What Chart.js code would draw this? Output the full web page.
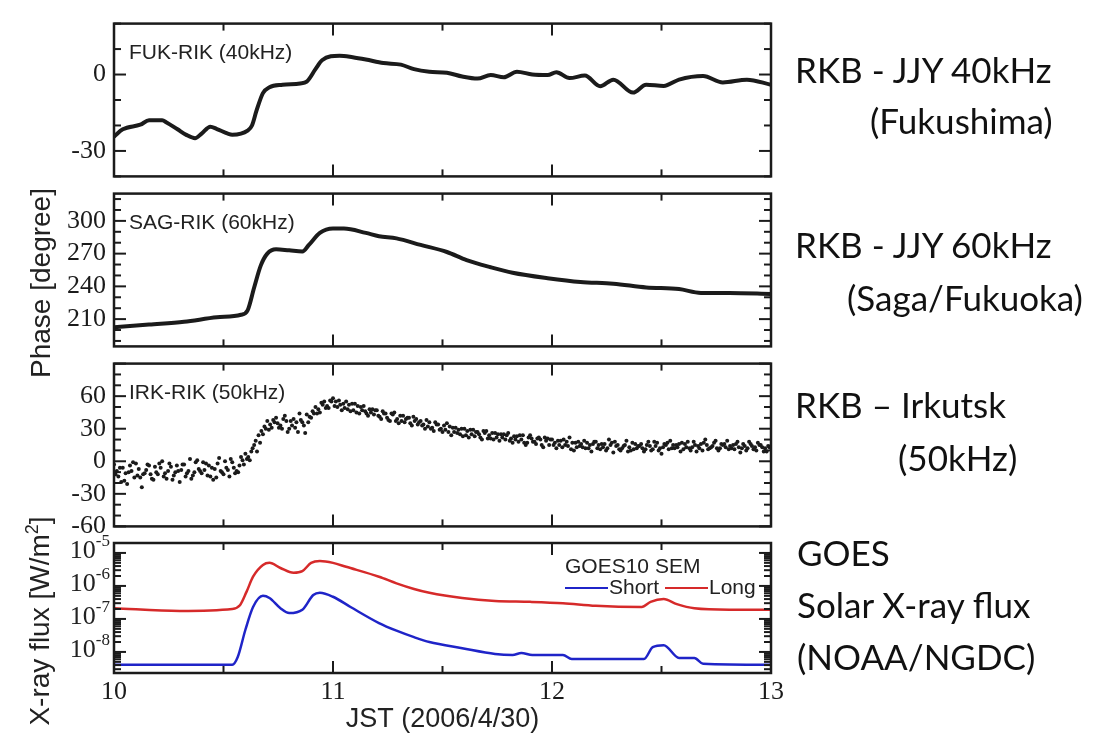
<!DOCTYPE html>
<html>
<head>
<meta charset="utf-8">
<script src="https://cdn.jsdelivr.net/npm/chart.js@4.4.0/dist/chart.umd.min.js"></script>
<style>
body { margin: 0; background: #fff; width: 1110px; height: 741px; position: relative; overflow: hidden; }
canvas { position: absolute; left: 0; }
.note { position: absolute; font-family: Lato, sans-serif; font-size: 35px; color: #111; white-space: nowrap; line-height: 40px; }
.ytitle { position: absolute; font-family: "Liberation Sans", Arial, sans-serif; font-size: 28px; color: #222; white-space: nowrap; line-height: 32px; transform: translate(-50%, -50%) rotate(-90deg); }
</style>
</head>
<body>
<canvas id="p1" width="1110" height="200" style="top:0"></canvas>
<canvas id="p2" width="1110" height="200" style="top:170px"></canvas>
<canvas id="p3" width="1110" height="210" style="top:340px"></canvas>
<canvas id="p4" width="1110" height="221" style="top:520px"></canvas>

<div class="ytitle" style="left:41px;top:283px">Phase [degree]</div>
<div class="ytitle" style="left:36px;top:621px">X-ray flux [W/m<sup style="font-size:18px">2</sup>]</div>

<div class="note" style="left:795px;top:49px">RKB - JJY 40kHz</div>
<div class="note" style="left:870px;top:100px">(Fukushima)</div>
<div class="note" style="left:795px;top:224px">RKB - JJY 60kHz</div>
<div class="note" style="left:847px;top:277px">(Saga/Fukuoka)</div>
<div class="note" style="left:795px;top:384px">RKB – Irkutsk</div>
<div class="note" style="left:898px;top:437px">(50kHz)</div>
<div class="note" style="left:797px;top:532px">GOES</div>
<div class="note" style="left:797px;top:584px">Solar X-ray flux</div>
<div class="note" style="left:797px;top:636px">(NOAA/NGDC)</div>

<script>
// JST hours
const xTicks = [10, 11, 12, 13];
const xMinor = [10.5, 11.5, 12.5];

// FUK-RIK 40kHz phase
const fukTime = [10.00,10.04,10.12,10.16,10.22,10.24,10.29,10.33,10.37,10.40,10.44,10.47,10.52,10.54,10.61,10.63,10.65,10.68,10.71,10.77,
  10.85,10.88,10.92,10.95,11.03,11.09,11.15,11.23,11.31,11.37,11.44,11.52,11.59,11.66,11.72,11.78,11.84,11.91,11.98,12.02,
  12.08,12.15,12.22,12.28,12.37,12.43,12.51,12.58,12.69,12.78,12.89,13.00];
const fukPhase = [-24.4,-21.5,-19.7,-18,-18,-18.8,-21.5,-23.7,-25,-23.2,-20.5,-21.4,-23.2,-23.6,-22,-20,-14.4,-7.3,-5,-4,
  -3.5,-2.8,2.1,5.6,7.4,6.8,5.9,4.5,3.9,2.1,1.1,0.7,-0.8,-1.6,-0.2,-1.1,1.1,0,-0.2,0.9,
  -1.4,-0.4,-4.6,-2,-7.1,-4,-4.5,-2,-0.6,-3.1,-2,-4];
const fukTicks = [-30, 0];

// SAG-RIK 60kHz phase
const sagTime = [10.00,10.16,10.32,10.47,10.58,10.61,10.64,10.67,10.70,10.74,10.80,10.86,10.89,10.94,11.00,11.05,
  11.15,11.21,11.29,11.40,11.52,11.61,11.72,11.82,11.98,12.13,12.28,12.43,12.58,12.68,12.81,13.00];
const sagPhase = [202.5,205,207.5,211.7,214,218,239,259,270,274,273,272,278,289,293,293,
  289,286,284,278,271.5,264,257.5,252.5,247.5,244,242.5,239,237.5,234,234,233];
const sagTicks = [210, 240, 270, 300];

// IRK-RIK 50kHz phase, three interleaved sample rows, each every 0.02 h
const irkStep = 0.02;
const irkStartA = 10.000, irkStartB = 10.007, irkStartC = 10.013;
const irkA = [
  -3,-14,-6,-21,-9,-2,-15,-11,-4,-17,
  -12,0,-16,-5,-10,-19,-3,-9,-13,1,
  -11,-2,-14,-7,3,-12,-8,-1,-9,4,
  7,1,15,24,25,37,31,40,33,42,
  30,39,27,36,43,40,50,45,55,49,
  58,50,47,55,46,53,44,51,42,48,
  47,39,44,37,45,35,42,40,33,39,
  37,30,36,28,34,27,35,24,31,25,
  30,22,29,27,20,28,21,26,19,25,
  26,17,23,20,15,24,18,22,13,21,
  20,12,19,15,22,10,18,13,17,9,
  18,11,16,20,8,15,12,19,10,16,
  14,9,18,11,17,7,15,19,12,16,
  11,18,13,9,16,20,12,17,10,15,
  19,12,16,8,14,18,11,17,13,9,
  14];
const irkB = [
  -12,-6,-18,-10,-1,-13,-24,-8,-12,-5,
  -2,-14,-9,-17,-4,-8,-14,2,-10,-7,
  -1,-13,-6,-15,-9,0,-14,-6,-10,1,
  2,9,19,17,32,29,38,35,30,37,
  37,31,44,33,36,46,44,54,49,56,
  51,56,53,48,53,45,50,46,48,43,
  42,46,40,44,37,42,36,40,41,34,
  33,38,30,36,29,33,27,31,26,30,
  24,29,23,25,28,21,26,22,25,20,
  19,23,18,24,17,21,16,20,22,15,
  15,19,13,18,11,17,14,19,12,16,
  12,16,10,15,18,11,14,9,17,12,
  16,11,14,18,10,13,17,12,15,9,
  16,12,18,14,10,15,13,19,12,16,
  11,15,18,12,10,16,13,15,9,14];
const irkC = [
  -9,-19,-11,-4,-15,-7,-12,-3,-16,-10,
  -6,-11,-2,-13,-9,-3,-11,-16,-1,-9,
  -8,-4,-17,-2,-10,-6,2,-11,-4,-3,
  4,12,9,28,30,34,36,31,39,27,
  33,36,38,26,41,44,48,52,51,55,
  55,52,49,52,47,51,47,44,45,47,
  41,44,38,43,39,37,39,35,37,36,
  34,32,31,34,30,29,32,27,29,23,
  28,25,27,22,26,24,20,25,22,24,
  21,20,24,17,22,18,21,15,19,20,
  17,15,20,14,17,13,16,12,15,18,
  15,13,12,17,14,10,15,13,11,14,
  12,15,10,14,12,16,11,15,13,17,
  13,10,15,12,17,11,14,12,16,13,
  14,11,13,16,12,14,10,15,12,13];
const irkTicks = [-60, -30, 0, 30, 60];

// GOES10 SEM X-ray flux [W/m2]
const longTime = [10.00,10.30,10.54,10.575,10.605,10.635,10.68,10.71,10.76,10.82,10.86,10.90,10.94,11.00,11.06,
  11.21,11.29,11.37,11.44,11.59,11.74,11.90,12.05,12.20,12.41,12.45,12.51,12.57,12.65,12.81,13.00];
const longFlux = [2.1e-7,1.75e-7,2.0e-7,2.6e-7,6.6e-7,1.9e-6,4.3e-6,5.0e-6,3.5e-6,2.5e-6,2.8e-6,5.0e-6,5.7e-6,5.0e-6,3.8e-6,
  1.9e-6,1.2e-6,8.1e-7,6.2e-7,4.3e-7,3.5e-7,3.3e-7,3.0e-7,2.5e-7,2.3e-7,3.3e-7,4.0e-7,2.8e-7,2.1e-7,1.9e-7,1.9e-7];
const shortTime = [10.00,10.54,10.565,10.60,10.635,10.68,10.71,10.76,10.80,10.86,10.91,10.94,11.00,11.08,11.21,11.29,
  11.37,11.44,11.59,11.74,11.82,11.86,11.91,12.05,12.09,12.42,12.46,12.51,12.58,12.65,12.69,13.00];
const shortFlux = [4.1e-9,4.1e-9,7e-9,4.7e-8,2.3e-7,5.0e-7,4.3e-7,2.1e-7,1.5e-7,1.9e-7,5.3e-7,6.2e-7,4.7e-7,2.3e-7,7.5e-8,4.4e-8,
  2.8e-8,2.0e-8,1.3e-8,8.7e-9,8.1e-9,9.3e-9,8.1e-9,8.1e-9,6.1e-9,6.1e-9,1.4e-8,1.6e-8,6.6e-9,6.6e-9,4.4e-9,4.1e-9];
const fluxTicks = [1e-8, 1e-7, 1e-6, 1e-5];

const pairs = (xs, ys) => ys.map((v, i) => ({ x: xs[i], y: v }));
const grid = (start, ys) => ys.map((v, i) => ({ x: start + i * irkStep, y: v }));

const ink = '#1b1b1b';
const serif = { family: '"Liberation Serif", "Times New Roman", serif', size: 26 };

// box, inward ticks on all four sides, panel label and legend
const frame = {
  id: 'frame',
  afterDatasetsDraw(chart, args, o) {
    const { ctx, chartArea: a } = chart;
    const x = chart.scales.x, y = chart.scales.y;
    ctx.save();
    ctx.strokeStyle = ink;
    ctx.lineWidth = 2;
    const seg = (x1, y1, x2, y2) => { ctx.beginPath(); ctx.moveTo(x1, y1); ctx.lineTo(x2, y2); ctx.stroke(); };
    xTicks.forEach(v => { const p = x.getPixelForValue(v); seg(p, a.top, p, a.top + 12); seg(p, a.bottom, p, a.bottom - 12); });
    xMinor.forEach(v => { const p = x.getPixelForValue(v); seg(p, a.top, p, a.top + 7); seg(p, a.bottom, p, a.bottom - 7); });
    const yt = [];
    if (o.log) {
      for (let e = -9; e <= -5; e++) for (let k = 1; k <= 9; k++) yt.push([k * Math.pow(10, e), k === 1]);
    } else {
      for (let v = Math.ceil(y.min / o.minor) * o.minor; v <= y.max; v += o.minor) yt.push([v, v % o.major === 0]);
    }
    yt.forEach(([v, big]) => {
      if (v < y.min || v > y.max) return;
      const p = y.getPixelForValue(v), len = big ? 12 : 7;
      seg(a.left, p, a.left + len, p);
      seg(a.right, p, a.right - len, p);
    });
    ctx.lineWidth = 2.5;
    ctx.strokeRect(a.left, a.top, a.width, a.height);

    ctx.fillStyle = '#222';
    ctx.textBaseline = 'middle';
    if (o.label) {
      ctx.font = '21px "Liberation Sans", Arial, sans-serif';
      ctx.fillText(o.label, a.left + 15, a.top + 30);
    }
    if (o.log) {
      // 10^n labels with raised exponent
      fluxTicks.forEach(v => {
        const p = y.getPixelForValue(v);
        const ex = String(Math.round(Math.log10(v)));
        ctx.textAlign = 'right';
        ctx.font = '17px "Liberation Serif", serif';
        const w = ctx.measureText(ex).width;
        ctx.fillText(ex, 110, p - 11);
        ctx.font = '26px "Liberation Serif", serif';
        ctx.fillText('10', 110 - w, p - 2);
      });
      // legend
      ctx.textAlign = 'left';
      ctx.font = '21px "Liberation Sans", Arial, sans-serif';
      const lx = a.right - 206;
      ctx.fillText(o.legendTitle, lx, a.top + 24);
      let cx = lx;
      chart.data.datasets.slice().reverse().forEach(ds => {
        ctx.strokeStyle = ds.borderColor;
        ctx.lineWidth = 2;
        seg(cx, a.top + 45, cx + 43, a.top + 45);
        ctx.fillStyle = '#222';
        ctx.fillText(ds.label, cx + 44, a.top + 45);
        cx += 100;
      });
    }
    ctx.restore();
  }
};

function panel(id, datasets, yScale, pad, frameOpts, showX) {
  const xScale = {
    type: 'linear', min: 10, max: 13, display: showX,
    afterBuildTicks: s => { s.ticks = xTicks.map(v => ({ value: v })); },
    grid: { display: false, drawTicks: false },
    border: { display: false },
    ticks: { font: serif, color: ink, padding: 4, maxRotation: 0 }
  };
  if (showX) {
    xScale.afterFit = s => { s.height = 68; };
    xScale.title = { display: true, text: 'JST (2006/4/30)', color: '#222',
      font: { family: '"Liberation Sans", Arial, sans-serif', size: 27 }, padding: { top: 0, bottom: 5 } };
  }
  return new Chart(document.getElementById(id), {
    type: 'scatter',
    data: { datasets },
    options: {
      responsive: false,
      animation: false,
      layout: { padding: { top: pad[0], bottom: pad[1], left: 0, right: 339 } },
      plugins: { legend: { display: false }, tooltip: { enabled: false }, frame: frameOpts },
      scales: {
        x: xScale,
        y: Object.assign({
          afterFit: s => { s.width = 114; },
          grid: { display: false, drawTicks: false },
          border: { display: false },
          ticks: { font: serif, color: ink, padding: 8 }
        }, yScale)
      }
    },
    plugins: [frame]
  });
}

const lineSet = (label, data, color, width) => ({
  label, data, showLine: true, borderColor: color, borderWidth: width,
  pointRadius: 0, cubicInterpolationMode: 'monotone'
});
const dotSet = (data) => ({ label: 'IRK-RIK', data, pointRadius: 2, pointBackgroundColor: ink, pointBorderWidth: 0 });

panel('p1', [lineSet('FUK-RIK', pairs(fukTime, fukPhase), ink, 4)],
  { min: -40, max: 20, afterBuildTicks: s => { s.ticks = fukTicks.map(v => ({ value: v })); } },
  [10, 20], { label: 'FUK-RIK (40kHz)', major: 30, minor: 10 }, false);

panel('p2', [lineSet('SAG-RIK', pairs(sagTime, sagPhase), ink, 4)],
  { min: 185, max: 325, afterBuildTicks: s => { s.ticks = sagTicks.map(v => ({ value: v })); } },
  [14, 15], { label: 'SAG-RIK (60kHz)', major: 30, minor: 10 }, false);

panel('p3', [dotSet(grid(irkStartA, irkA)), dotSet(grid(irkStartB, irkB)), dotSet(grid(irkStartC, irkC))],
  { min: -60, max: 90, afterBuildTicks: s => { s.ticks = irkTicks.map(v => ({ value: v })); } },
  [18, 22], { label: 'IRK-RIK (50kHz)', major: 30, minor: 10 }, false);

panel('p4', [
    lineSet('Long', pairs(longTime, longFlux), '#d62a2a', 2.5),
    lineSet('Short', pairs(shortTime, shortFlux), '#1f24c8', 2.5)
  ],
  { type: 'logarithmic', min: 2.3e-9, max: 2e-5, ticks: { display: false },
    afterBuildTicks: s => { s.ticks = fluxTicks.map(v => ({ value: v })); } },
  [23, 0], { log: true, legendTitle: 'GOES10 SEM' }, true);
</script>
</body>
</html>
